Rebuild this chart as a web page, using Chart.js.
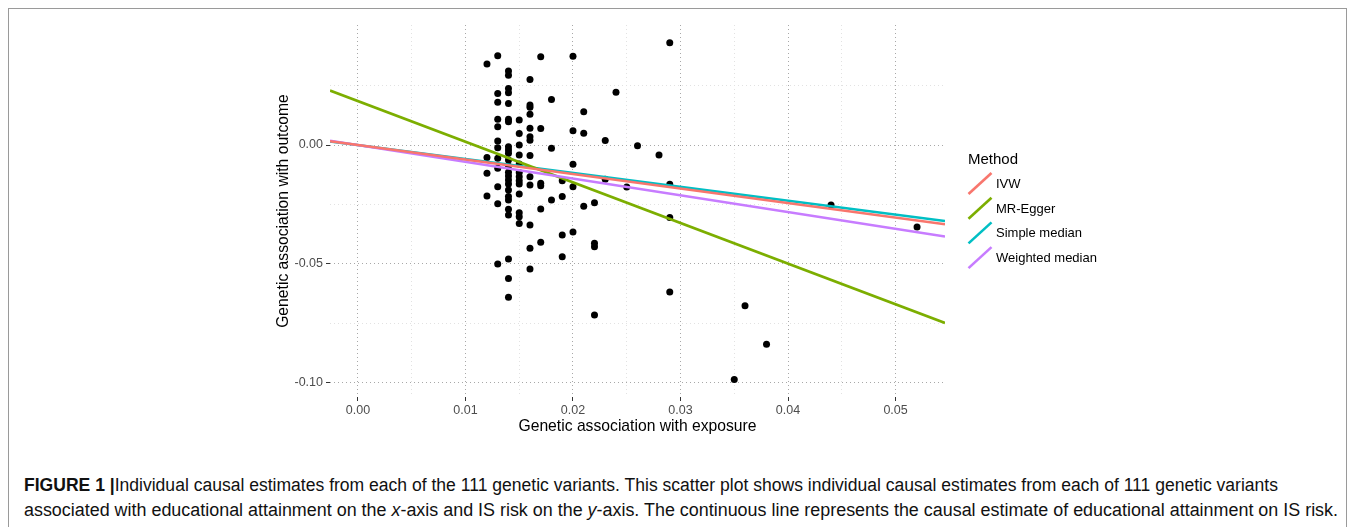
<!DOCTYPE html>
<html><head><meta charset="utf-8">
<script src="https://cdn.jsdelivr.net/npm/chart.js@4.4.1/dist/chart.umd.min.js"></script>
<style>
html,body{margin:0;padding:0;background:#fff;width:1355px;height:527px;overflow:hidden;font-family:'Liberation Sans',Arial,sans-serif;}
#frame{position:absolute;left:8px;top:8px;width:1339px;height:640px;border:1px solid #9a9a9a;box-sizing:border-box;}
#wrap{position:absolute;left:0;top:0;width:1355px;height:445px;}
.cap{position:absolute;left:24px;white-space:nowrap;font-size:18px;line-height:22px;color:#111;transform-origin:0 50%;}
</style></head>
<body>
<div id="frame"></div>
<div id="wrap"><canvas id="c" width="1355" height="445"></canvas></div>
<div class="cap" id="cap1" style="top:474px"><b>FIGURE 1 |</b>Individual causal estimates from each of the 111 genetic variants. This scatter plot shows individual causal estimates from each of 111 genetic variants</div>
<div class="cap" id="cap2" style="top:499px">associated with educational attainment on the <i>x</i>-axis and IS risk on the <i>y</i>-axis. The continuous line represents the causal estimate of educational attainment on IS risk.</div>
<script>
// ---- data ----
const variantExposure = [
  0.012,0.012,0.012,0.012,
  0.013,0.013,0.013,0.013,0.013,0.013,0.013,0.013,0.013,0.013,0.013,0.013,
  0.014,0.014,0.014,0.014,0.014,0.014,0.014,0.014,0.014,0.014,0.014,0.014,0.014,0.014,0.014,0.014,0.014,0.014,0.014,0.014,0.014,0.014,0.014,0.014,
  0.015,0.015,0.015,0.015,0.015,0.015,0.015,0.015,0.015,0.015,0.015,0.015,0.015,
  0.016,0.016,0.016,0.016,0.016,0.016,0.016,0.016,0.016,0.016,0.016,0.016,0.016,
  0.017,0.017,0.017,0.017,0.017,0.017,
  0.018,0.018,0.018,
  0.019,0.019,0.019,0.019,
  0.020,0.020,0.020,0.020,0.020,
  0.021,0.021,0.021,
  0.022,0.022,0.022,0.022,
  0.023,0.023,
  0.024,0.025,0.026,0.028,
  0.029,0.029,0.029,0.029,
  0.035,0.036,0.038,0.044,0.052
];
const variantOutcome = [
  0.0341,-0.0052,-0.0119,-0.0214,
  0.0376,0.0217,0.0180,0.0109,0.0077,0.0017,-0.0011,-0.0056,-0.0098,-0.0175,-0.0247,-0.0500,
  0.0311,0.0294,0.0238,0.0220,0.0175,0.0109,0.0098,-0.0007,-0.0021,-0.0035,-0.0063,-0.0088,-0.0114,-0.0130,-0.0147,-0.0164,-0.0189,-0.0217,-0.0231,-0.0270,-0.0294,-0.0479,-0.0561,-0.0640,
  0.0105,0.0049,0.0000,-0.0042,-0.0080,-0.0116,-0.0133,-0.0150,-0.0164,-0.0206,-0.0285,-0.0302,-0.0330,
  0.0276,0.0168,0.0159,0.0130,0.0071,0.0035,0.0020,-0.0044,-0.0133,-0.0168,-0.0336,-0.0434,-0.0521,
  0.0371,0.0070,-0.0161,-0.0171,-0.0269,-0.0409,
  0.0192,-0.0014,-0.0231,
  -0.0150,-0.0217,-0.0378,-0.0470,
  0.0374,0.0060,-0.0081,-0.0175,-0.0366,
  0.0140,0.0050,-0.0257,
  -0.0243,-0.0413,-0.0428,-0.0715,
  0.0019,-0.0144,
  0.0222,-0.0177,-0.0003,-0.0042,
  0.0430,-0.0165,-0.0305,-0.0618,
  -0.0986,-0.0676,-0.0838,-0.0252,-0.0345
];
const methodNames = ['IVW','MR-Egger','Simple median','Weighted median'];
const methodIntercepts = [0, 0.0185, 0, 0];
const methodSlopes = [-0.61, -1.71, -0.585, -0.705];
const xLimits = [-0.0026, 0.0546];
const yLimits = [-0.1060, 0.0505];
const xMajorTicks = [0, 0.01, 0.02, 0.03, 0.04, 0.05];
const xMinorTicks = [0.005, 0.015, 0.025, 0.035, 0.045];
const yMajorTicks = [-0.10, -0.05, 0.00];
const yMinorTicks = [-0.075, -0.025, 0.025];

// ---- styles ----
const methodColors = ['#F8766D','#7CAE00','#00BFC4','#C77CFF'];
const methodOrder = [0, 2, 3, 1];
const FONT = "'Liberation Sans', Arial, sans-serif";
const isMajor = (v, arr) => arr.some(m => Math.abs(m - v) < 1e-9);

const datasets = [{
  label: 'variants',
  data: variantExposure.map((x, i) => ({x, y: variantOutcome[i]})),
  backgroundColor: '#000', borderColor: '#000',
  pointRadius: 3.5, pointBorderWidth: 0, showLine: false, order: 10
}];
methodNames.forEach((name, i) => {
  datasets.push({
    label: name,
    data: xLimits.map(x => ({x, y: methodIntercepts[i] + methodSlopes[i] * x})),
    borderColor: methodColors[i], backgroundColor: methodColors[i],
    borderWidth: 2.6, pointRadius: 0, showLine: true, order: methodOrder[i]
  });
});

const legendPlugin = {
  id: 'ggLegend',
  afterDraw(chart) {
    const ctx = chart.ctx;
    ctx.save();
    ctx.fillStyle = '#000';
    ctx.textBaseline = 'middle';
    ctx.textAlign = 'left';
    ctx.font = '15px ' + FONT;
    ctx.fillText('Method', 968, 160);
    ctx.font = '13px ' + FONT;
    methodNames.forEach((name, i) => {
      const cy = 183.5 + i * 24.7;
      ctx.strokeStyle = methodColors[i];
      ctx.lineWidth = 2.6;
      ctx.lineCap = 'butt';
      ctx.beginPath();
      ctx.moveTo(968.5, cy + 10.5);
      ctx.lineTo(991.5, cy - 10.5);
      ctx.stroke();
      ctx.fillStyle = '#000';
      ctx.fillText(name, 996, cy + 1);
    });
    ctx.restore();
  }
};

function axisCfg(lim, majors, minors, title, isX) {
  return {
    type: 'linear', min: lim[0], max: lim[1],
    afterBuildTicks: s => { s.ticks = majors.concat(minors).sort((a, b) => a - b).map(v => ({value: v})); },
    afterFit: s => { if (isX) s.height = 43; else s.width = 60; },
    grid: {
      color: c => (c.tick && isMajor(c.tick.value, majors)) ? '#a8a8a8' : '#e2e2e2',
      lineWidth: 1, drawTicks: true, tickLength: 4,
      tickColor: c => (c.tick && isMajor(c.tick.value, majors)) ? '#333333' : 'rgba(0,0,0,0)',
      tickWidth: 1, tickBorderDash: []
    },
    border: { display: false, dash: [1, 3] },
    ticks: {
      autoSkip: false, maxRotation: 0, color: '#4d4d4d', padding: isX ? 2 : 3,
      font: { family: FONT, size: 12.5 },
      callback: v => isMajor(v, majors) ? v.toFixed(2) : ''
    },
    title: { display: true, text: title, color: '#000', font: { family: FONT, size: 15.7 }, padding: { top: 4, bottom: 4 } }
  };
}

new Chart(document.getElementById('c'), {
  type: 'scatter',
  data: { datasets },
  options: {
    responsive: false, animation: false, devicePixelRatio: 1,
    layout: { padding: { left: 270, right: 410, top: 25, bottom: 5 } },
    plugins: { legend: { display: false }, tooltip: { enabled: false } },
    scales: {
      x: axisCfg(xLimits, xMajorTicks, xMinorTicks, 'Genetic association with exposure', true),
      y: axisCfg(yLimits, yMajorTicks, yMinorTicks, 'Genetic association with outcome', false)
    }
  },
  plugins: [legendPlugin]
});

function fitCaps() {
  [['cap1', 1254], ['cap2', 1314]].forEach(([id, target]) => {
    const el = document.getElementById(id);
    el.style.transform = 'none';
    const w = el.getBoundingClientRect().width;
    el.style.transform = 'scaleX(' + (target / w) + ')';
  });
}
fitCaps();
if (document.fonts && document.fonts.ready) document.fonts.ready.then(fitCaps);
</script>
</body></html>
